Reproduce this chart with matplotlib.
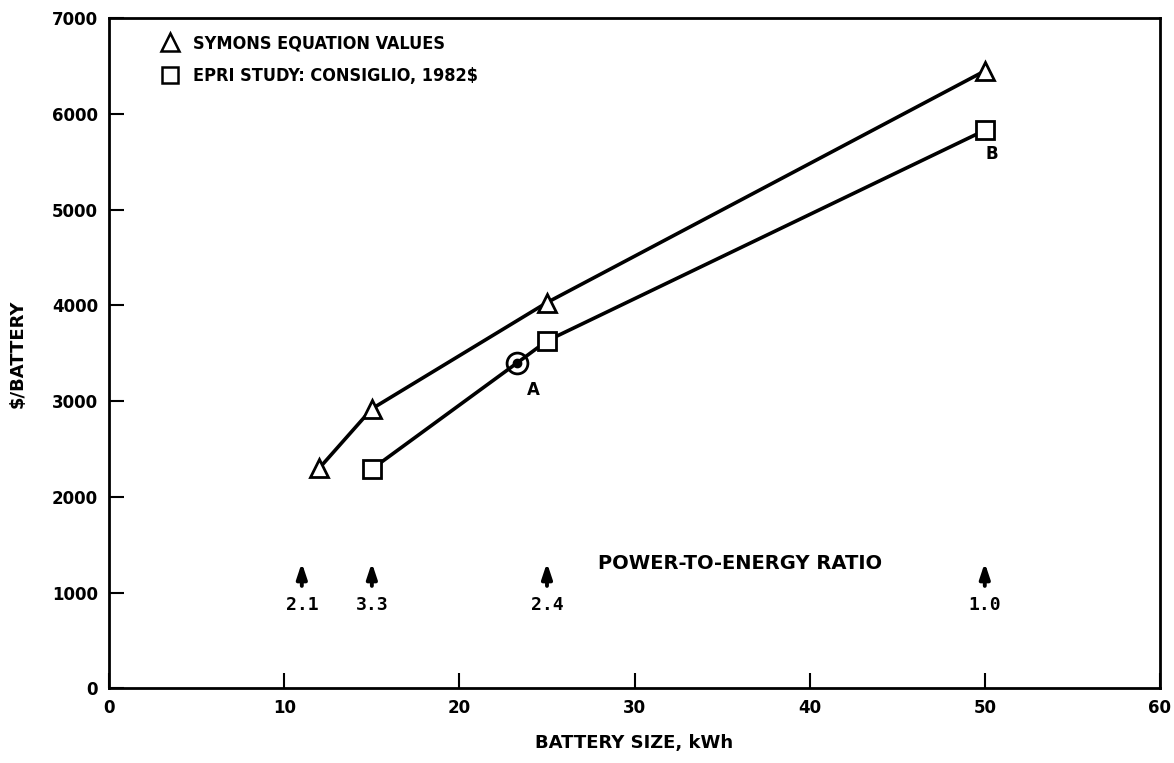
import matplotlib
matplotlib.use('Agg')
import matplotlib.pyplot as plt
from matplotlib.lines import Line2D

# data
symons_kwh = [12, 15, 25, 50]
symons_cost = [2300, 2920, 4030, 6450]
epri_kwh = [15, 23.3, 25, 50]
epri_cost = [2290, 3400, 3630, 5830]
epri_marked = [15, 25, 50]
epri_marked_cost = [2290, 3630, 5830]
point_a = (23.3, 3400)

ratio_kwh = [11, 15, 25, 50]
ratio_labels = ['2.1', '3.3', '2.4', '1.0']

plt.rcParams['font.family'] = ['DejaVu Sans']
plt.rcParams['font.weight'] = 'bold'

fig = plt.figure(figsize=(11.74, 7.63), dpi=100)
ax = fig.add_axes([0.093, 0.098, 0.895, 0.878])

ax.plot(symons_kwh, symons_cost, color='black', lw=2.6, marker='^', ms=13,
        mfc='white', mec='black', mew=2)
ax.plot(epri_kwh, epri_cost, color='black', lw=2.6)
ax.plot(epri_marked, epri_marked_cost, ls='none', marker='s', ms=13,
        mfc='white', mec='black', mew=2)
ax.plot(*point_a, marker='o', ms=15, mfc='none', mec='black', mew=2)
ax.plot(*point_a, marker='o', ms=6, color='black')
ax.text(24.2, 3120, 'A', fontsize=12, fontweight='bold', ha='center', va='center')
ax.text(50.4, 5580, 'B', fontsize=12, fontweight='bold', ha='center', va='center')

# power-to-energy ratio arrows
for xk, lab in zip(ratio_kwh, ratio_labels):
    ax.annotate('', xy=(xk, 1340), xytext=(xk, 1040),
                arrowprops=dict(arrowstyle='-|>,head_length=0.45,head_width=0.15',
                                color='black', lw=2.8, mutation_scale=20))
    ax.text(xk, 870, lab, fontsize=13, fontweight='bold', ha='center',
            va='center', family='DejaVu Sans Mono')
ax.text(36, 1300, 'POWER-TO-ENERGY RATIO', fontsize=14, fontweight='bold',
        ha='center', va='center')

ax.set_xlim(0, 60)
ax.set_ylim(0, 7000)
ax.set_xticks(range(0, 61, 10))
ax.set_yticks(range(0, 7001, 1000))
ax.tick_params(direction='in', length=11, width=1.5, labelsize=12, pad=8)
for lab in ax.get_xticklabels() + ax.get_yticklabels():
    lab.set_fontweight('bold')
for sp in ax.spines.values():
    sp.set_linewidth(2)

ax.set_xlabel('BATTERY SIZE, kWh', fontsize=13, fontweight='bold', labelpad=12)
ax.set_ylabel('$/BATTERY', fontsize=13, fontweight='bold', labelpad=18)

handles = [
    Line2D([], [], ls='none', marker='^', ms=13, mfc='white', mec='black', mew=1.8),
    Line2D([], [], ls='none', marker='s', ms=12, mfc='white', mec='black', mew=1.8),
]
ax.legend(handles, ['SYMONS EQUATION VALUES', 'EPRI STUDY: CONSIGLIO, 1982$'],
          loc='upper left', bbox_to_anchor=(0.025, 1.0), frameon=False,
          prop={'size': 13, 'weight': 'bold', 'stretch': 'condensed'},
          handletextpad=0.3, labelspacing=0.8)

fig.savefig('out.png', dpi=100)
